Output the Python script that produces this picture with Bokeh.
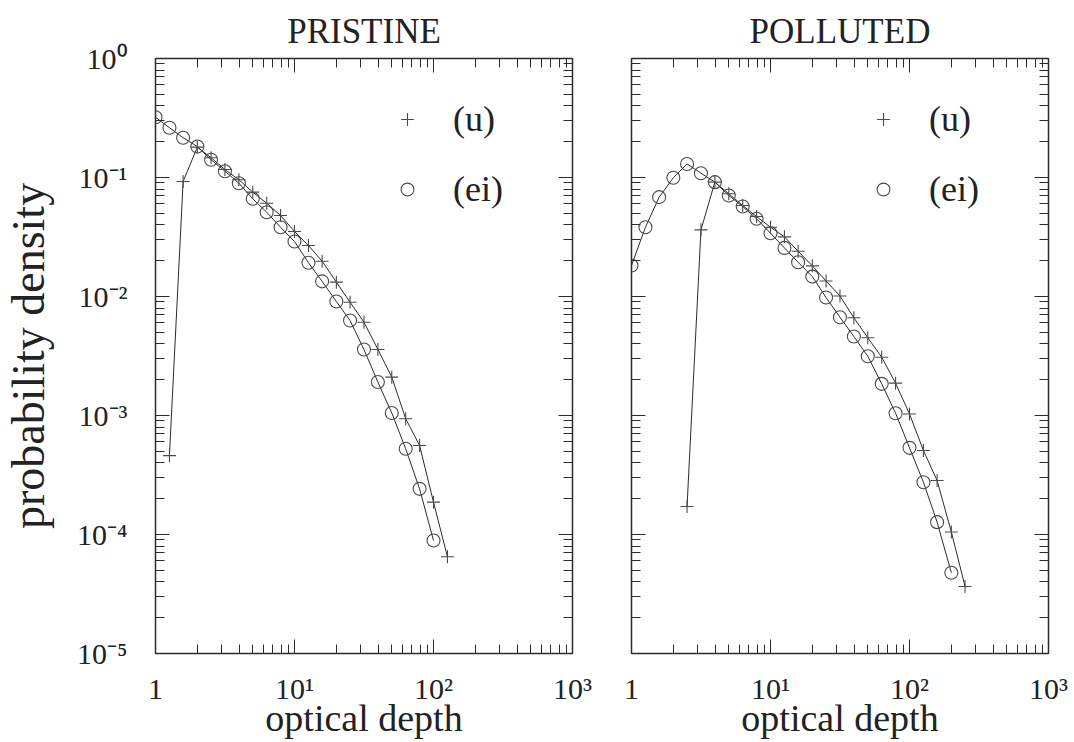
from bokeh.plotting import figure
from bokeh.layouts import row
from bokeh.models import (Range1d, LogAxis, LogTicker, CustomJSTickFormatter,
                          Legend, LegendItem, ColumnDataSource)
from bokeh.embed import file_html
from bokeh.resources import INLINE

# ---------------- data ----------------
titles = ["PRISTINE", "POLLUTED"]
series_labels = ["(u)", "(ei)"]
x_label = "optical depth"
y_label = "probability density"

pristine_ei_x = [1.0, 1.26, 1.58, 2.0, 2.51, 3.16, 3.98, 5.01, 6.31, 7.94, 10.0,
                 12.6, 15.8, 20.0, 25.1, 31.6, 39.8, 50.1, 63.1, 79.4, 100.0]
pristine_ei_y = [0.321, 0.262, 0.216, 0.182, 0.141, 0.113, 0.0896, 0.0662, 0.0511,
                 0.0382, 0.029, 0.0192, 0.0134, 0.00908, 0.00628, 0.00359, 0.00191,
                 0.00105, 0.000525, 0.000242, 0.000089]
pristine_u_x = [1.26, 1.58, 2.0, 2.51, 3.16, 3.98, 5.01, 6.31, 7.94, 10.0, 12.6,
                15.8, 20.0, 25.1, 31.6, 39.8, 50.1, 63.1, 79.4, 100.0, 126.0]
pristine_u_y = [0.00046, 0.0925, 0.180, 0.1465, 0.1167, 0.0957, 0.0753, 0.0608,
                0.048, 0.0352, 0.0268, 0.0198, 0.0132, 0.00896, 0.00608, 0.00359,
                0.0021, 0.000938, 0.00056, 0.000187, 0.000065]

polluted_ei_x = [1.0, 1.26, 1.58, 2.0, 2.51, 3.16, 3.98, 5.01, 6.31, 7.94, 10.0,
                 12.6, 15.8, 20.0, 25.1, 31.6, 39.8, 50.1, 63.1, 79.4, 100.0,
                 126.0, 158.0, 200.0]
polluted_ei_y = [0.0182, 0.0382, 0.0684, 0.0994, 0.130, 0.1087, 0.0914, 0.0706,
                 0.057, 0.045, 0.034, 0.0256, 0.0194, 0.0147, 0.0098, 0.0067,
                 0.00461, 0.00315, 0.001845, 0.001046, 0.000535, 0.000275,
                 0.000127, 0.0000477]
polluted_u_x = [2.51, 3.16, 3.98, 5.01, 6.31, 7.94, 10.0, 12.6, 15.8, 20.0, 25.1,
                31.6, 39.8, 50.1, 63.1, 79.4, 100.0, 126.0, 158.0, 200.0, 251.0]
polluted_u_y = [0.000172, 0.0363, 0.0914, 0.073, 0.0582, 0.047, 0.0382, 0.0317,
                0.024, 0.0181, 0.0135, 0.0101, 0.00662, 0.0045, 0.00309, 0.00187,
                0.00103, 0.000508, 0.000284, 0.000105, 0.0000366]

# ---------------- style ----------------
FONT = "Liberation Serif"
INK = "#2b2b2b"
MARK = "#4a4a4a"
TXT = "#222222"

SUP_JS = """
const e = Math.round(Math.log10(tick));
if (e === 0 && ONE) { return "1"; }
const m = {"0":"\u2070","1":"\u00b9","2":"\u00b2","3":"\u00b3","4":"\u2074",
           "5":"\u2075","6":"\u2076","7":"\u2077","8":"\u2078","9":"\u2079","-":"\u207b"};
let s = "";
for (const c of String(e)) { s += m[c]; }
return "10" + s;
"""


def fmt(one):
    return CustomJSTickFormatter(code=SUP_JS.replace("ONE", "true" if one else "false"))


def blank():
    return CustomJSTickFormatter(code="return '';")


def style_axis(ax, labels=True):
    ax.axis_line_color = INK
    ax.axis_line_width = 1.5
    ax.major_tick_line_color = INK
    ax.minor_tick_line_color = INK
    ax.major_tick_in = 14
    ax.major_tick_out = 0
    ax.minor_tick_in = 9
    ax.minor_tick_out = 0
    ax.major_label_text_font = FONT
    ax.major_label_text_font_size = "30px"
    ax.major_label_text_color = TXT
    ax.axis_label_text_font = FONT
    ax.axis_label_text_font_style = "normal"
    ax.axis_label_text_color = TXT
    if not labels:
        ax.major_label_text_font_size = "0px"
        ax.major_label_standoff = 0


def xt():
    return LogTicker(mantissas=[1], num_minor_ticks=10, desired_num_ticks=4)


def yt():
    return LogTicker(mantissas=[1], num_minor_ticks=10, desired_num_ticks=6)


def panel(title, ei_x, ei_y, u_x, u_y, left_labels, lb, rb):
    p = figure(x_axis_type="log", y_axis_type="log",
               x_range=Range1d(1, 1000), y_range=Range1d(1e-5, 1),
               frame_width=417, frame_height=595,
               min_border_left=lb, min_border_right=rb,
               min_border_top=58, min_border_bottom=87,
               output_backend="svg", toolbar_location=None, title=title)
    p.background_fill_color = "white"
    p.border_fill_color = "white"
    p.outline_line_color = INK
    p.xgrid.grid_line_color = None
    p.ygrid.grid_line_color = None

    p.title.text_font = FONT
    p.title.text_font_size = "35px"
    p.title.text_font_style = "normal"
    p.title.text_color = TXT
    p.title.align = "center"
    p.title.standoff = 16

    # bottom axis
    xa = p.xaxis[0]
    xa.ticker = xt()
    xa.formatter = fmt(True)
    style_axis(xa)
    xa.major_label_standoff = 18
    xa.axis_label = x_label
    xa.axis_label_text_font_size = "38px"
    xa.axis_label_standoff = -11

    # left axis
    ya = p.yaxis[0]
    ya.ticker = yt()
    if left_labels:
        ya.formatter = fmt(False)
        style_axis(ya)
        ya.major_label_standoff = 28
        ya.axis_label = y_label
        ya.axis_label_text_font_size = "46px"
        ya.axis_label_standoff = 20
    else:
        ya.formatter = blank()
        style_axis(ya, labels=False)

    top = LogAxis(ticker=xt(), formatter=blank())
    style_axis(top, labels=False)
    p.add_layout(top, "above")
    right = LogAxis(ticker=yt(), formatter=blank())
    style_axis(right, labels=False)
    p.add_layout(right, "right")

    src_u = ColumnDataSource(dict(x=u_x, y=u_y))
    src_e = ColumnDataSource(dict(x=ei_x, y=ei_y))
    p.line("x", "y", source=src_u, line_color=INK, line_width=1)
    p.line("x", "y", source=src_e, line_color=INK, line_width=1)
    su = p.scatter("x", "y", source=src_u, marker="cross", size=13,
                   line_color=MARK, line_width=1.1)
    se = p.scatter("x", "y", source=src_e, marker="circle", size=13,
                   line_color=MARK, line_width=1.1, fill_color=None)

    legend = Legend(items=[LegendItem(label=series_labels[0], renderers=[su]),
                           LegendItem(label=series_labels[1], renderers=[se])],
                    location=(236, 443), orientation="vertical",
                    padding=0, margin=0, spacing=28,
                    glyph_width=32, glyph_height=40, label_height=40,
                    label_standoff=30, label_text_font=FONT,
                    label_text_font_size="36px", label_text_color=TXT,
                    border_line_color=None, background_fill_alpha=0)
    p.add_layout(legend)
    return p


p1 = panel(titles[0], pristine_ei_x, pristine_ei_y, pristine_u_x, pristine_u_y,
           True, 154, 29)
p2 = panel(titles[1], polluted_ei_x, polluted_ei_y, polluted_u_x, polluted_u_y,
           False, 30, 20)

layout = row(p1, p2, spacing=0)
open("out.html", "w").write(file_html(layout, INLINE))
